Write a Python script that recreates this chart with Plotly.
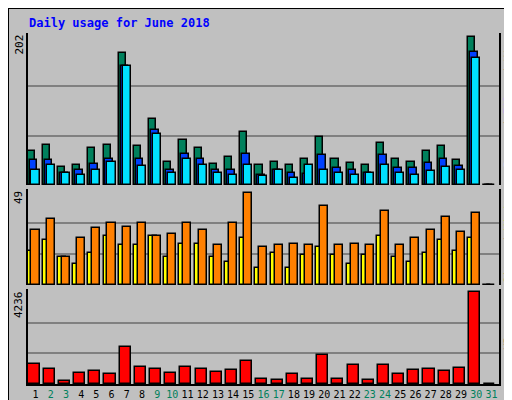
import plotly.graph_objects as go

days = list(range(1, 32))
weekend = [2, 3, 9, 10, 16, 17, 23, 24, 30, 31]

hits = [46, 54, 24, 27, 51, 54, 180, 53, 90, 31, 62, 50, 28, 38, 72, 27,
        32, 27, 35, 65, 35, 30, 27, 57, 35, 32, 46, 53, 34, 202, 0]
files = [34, 34, 16, 20, 28, 35, 163, 35, 75, 21, 42, 36, 20, 21, 42, 13,
         20, 16, 15, 41, 23, 21, 16, 41, 23, 23, 30, 35, 26, 182, 0]
pages = [20, 27, 16, 13, 20, 31, 162, 26, 69, 16, 35, 27, 16, 13, 27, 12,
         20, 10, 27, 21, 16, 13, 16, 27, 16, 13, 19, 24, 20, 174, 0]
visits = [29, 35, 15, 25, 30, 33, 31, 33, 26, 27, 33, 29, 21, 33, 49, 20,
          21, 22, 21, 42, 21, 22, 21, 39, 21, 25, 29, 36, 28, 38, 0]
sites = [18, 24, 15, 11, 17, 26, 21, 21, 26, 15, 22, 22, 15, 12, 25, 9,
         17, 9, 16, 20, 16, 11, 16, 26, 15, 12, 17, 24, 18, 25, 0]
kbytes = [943, 711, 155, 526, 618, 479, 1731, 804, 711, 526, 804, 711, 572, 665, 1082, 247,
          201, 479, 247, 1360, 247, 897, 201, 897, 479, 665, 711, 618, 757, 4236, 0]

BG = "#c0c0c0"
FONT = "DejaVu Sans Mono"
line = dict(color="black", width=1.5)

fig = go.Figure()

def bars(y, color, offset, width, yax):
    fig.add_trace(go.Bar(x=days, y=y, offset=offset, width=width,
                         marker=dict(color=color, line=line),
                         xaxis="x", yaxis=yax, showlegend=False))

bars(hits, "#00805c", -0.53, 0.47, "y")
bars(files, "#0040ff", -0.4, 0.5, "y")
bars(pages, "#00e0ff", -0.27, 0.53, "y")
bars(sites, "#ffff00", -0.53, 0.5, "y2")
bars(visits, "#ff8000", -0.27, 0.53, "y2")
bars(kbytes, "#ff0000", -0.47, 0.73, "y3")

ticktext = ['<span style="color:%s">%d</span>' % ("#00805c" if d in weekend else "black", d)
            for d in days]

xdom = [20 / 512, 491 / 512]
fig.update_layout(
    width=512, height=400,
    margin=dict(l=0, r=0, t=0, b=0),
    paper_bgcolor=BG, plot_bgcolor=BG,
    barmode="overlay", bargap=0,
    font=dict(family=FONT, size=11, color="black"),
    xaxis=dict(domain=xdom, range=[0.5, 31.5], tickvals=days, ticktext=ticktext,
               showgrid=False, anchor="y3", ticks="", showline=True, tickangle=0,
               linecolor="black", linewidth=1.5, mirror=False, automargin=False,
               tickfont=dict(family=FONT, size=10)),
)

panels = [("yaxis", [223 / 400, 375 / 400], 207.5, 202),
          ("yaxis2", [123 / 400, 219 / 400], 50.9, 49),
          ("yaxis3", [24 / 400, 119 / 400], 4388, 4236)]
for name, dom, top, mx in panels:
    fig.layout[name] = dict(domain=dom, range=[0, top], tickvals=[mx / 3, 2 * mx / 3],
                            showticklabels=False, gridcolor="#808080", gridwidth=1.5,
                            showline=True, linecolor="black", linewidth=1.5, mirror=True,
                            zeroline=False, anchor="x", ticks="")
    fig.add_annotation(text=str(mx), xref="paper", yref="paper", x=19 / 512, y=dom[1],
                       xanchor="right", yanchor="top", textangle=-90, showarrow=False,
                       font=dict(family=FONT, size=11, color="black"))

fig.add_annotation(text="<b>Daily usage for June 2018</b>", xref="paper", yref="paper",
                   x=19 / 512, y=1 - 15 / 400, xanchor="left", yanchor="middle",
                   showarrow=False, font=dict(family=FONT, size=12, color="#0000ff"))

right = [('<span style="color:#00e0ff">Pages</span> / <span style="color:#0040ff">Files</span>'
          ' / <span style="color:#00805c">Hits</span>', 375 / 400),
         ('<span style="color:#ff8000">Sites</span> / <span style="color:#ffff00">Visits</span>', 219 / 400),
         ('<span style="color:#ff0000">KBytes</span>', 100 / 400)]
for txt, yy in right:
    fig.add_annotation(text=txt, xref="paper", yref="paper", x=500 / 512, y=yy,
                       xanchor="center", yanchor="top", textangle=-90, showarrow=False,
                       font=dict(family=FONT, size=11, color="black"))

# window frame with bevel
fig.add_shape(type="rect", xref="paper", yref="paper", x0=0, y0=0, x1=1, y1=1,
              line=dict(color="black", width=2))
fig.add_shape(type="line", xref="paper", yref="paper", x0=507 / 512, y0=3 / 400,
              x1=507 / 512, y1=396 / 400, line=dict(color="#808080", width=4))
fig.add_shape(type="line", xref="paper", yref="paper", x0=3 / 512, y0=4 / 400,
              x1=507 / 512, y1=4 / 400, line=dict(color="#808080", width=4))

fig.write_html("out.html")
